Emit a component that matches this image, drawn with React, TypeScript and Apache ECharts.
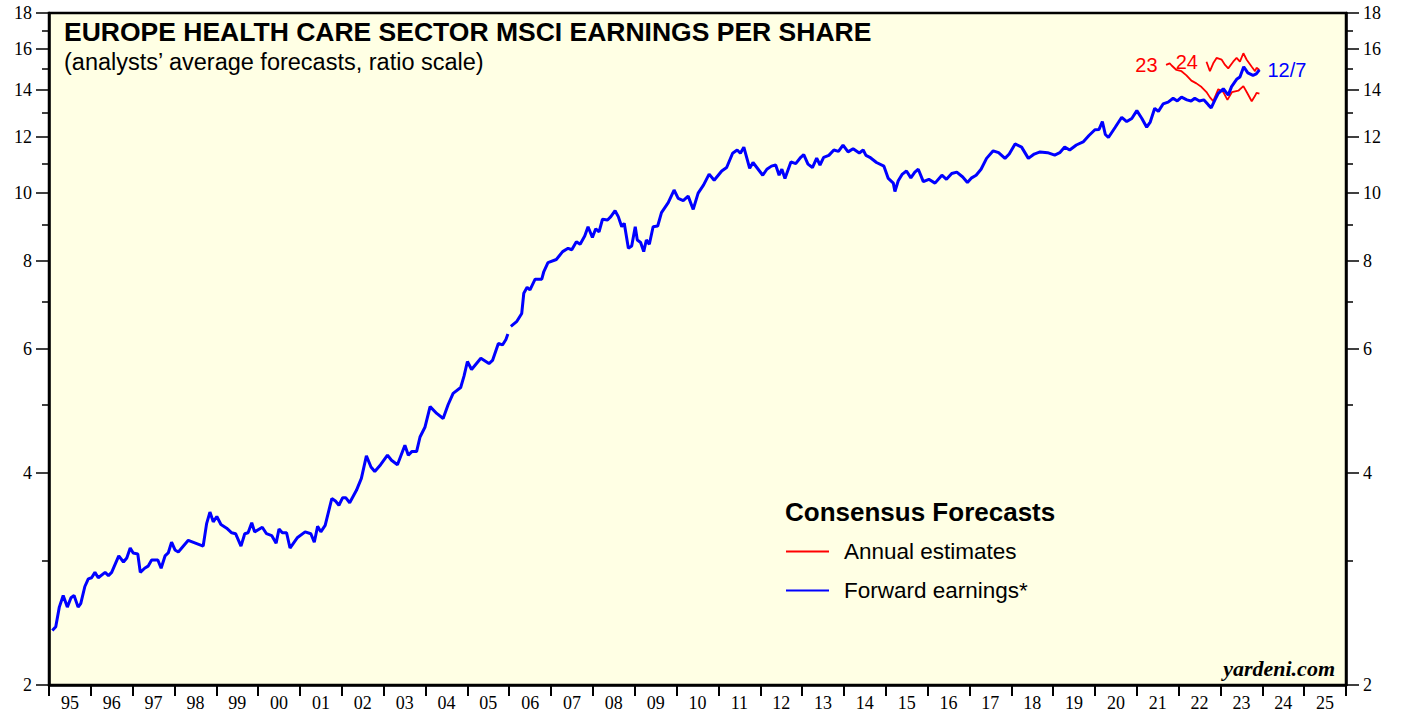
import React, { useEffect, useRef } from 'react';
import * as echarts from 'echarts';

const yearLabels = ['95','96','97','98','99','00','01','02','03','04','05','06','07','08','09','10','11','12','13','14','15','16','17','18','19','20','21','22','23','24','25'];
const majorTicks = [2, 4, 6, 8, 10, 12, 14, 16, 18];
const minorTicks = [3, 5, 7, 9, 11, 13, 15, 17];

const fwdEarnings: [string, number | null][] = [
  ['1995-01-30', 2.39], ['1995-03-01', 2.42], ['1995-04-01', 2.58], ['1995-05-05', 2.68], ['1995-06-10', 2.58],
  ['1995-07-12', 2.66], ['1995-08-08', 2.68], ['1995-09-12', 2.58], ['1995-10-05', 2.61], ['1995-11-10', 2.76],
  ['1995-12-10', 2.83], ['1996-01-08', 2.84], ['1996-02-06', 2.89], ['1996-03-06', 2.84], ['1996-05-05', 2.89],
  ['1996-06-03', 2.86], ['1996-07-01', 2.89], ['1996-09-01', 3.05], ['1996-10-12', 2.99], ['1996-11-10', 3.03],
  ['1996-12-10', 3.13], ['1997-01-05', 3.08], ['1997-02-14', 3.07], ['1997-03-08', 2.89], ['1997-04-15', 2.93],
  ['1997-05-15', 2.95], ['1997-06-15', 3.01], ['1997-08-08', 3.01], ['1997-09-06', 2.93], ['1997-10-10', 3.05],
  ['1997-11-07', 3.08], ['1997-12-06', 3.19], ['1998-01-05', 3.11], ['1998-02-03', 3.09], ['1998-05-01', 3.21],
  ['1998-09-08', 3.15], ['1998-10-08', 3.39], ['1998-11-06', 3.52], ['1998-12-05', 3.41], ['1999-01-05', 3.47],
  ['1999-02-10', 3.38], ['1999-04-01', 3.34], ['1999-05-15', 3.29], ['1999-06-18', 3.28], ['1999-08-04', 3.15],
  ['1999-09-06', 3.28], ['1999-10-05', 3.29], ['1999-11-06', 3.40], ['1999-12-01', 3.30], ['2000-02-06', 3.35],
  ['2000-03-14', 3.28], ['2000-04-28', 3.26], ['2000-06-06', 3.18], ['2000-07-01', 3.33], ['2000-07-30', 3.29],
  ['2000-09-05', 3.29], ['2000-10-05', 3.13], ['2000-12-10', 3.24], ['2001-02-14', 3.30], ['2001-04-05', 3.28],
  ['2001-05-05', 3.19], ['2001-06-03', 3.36], ['2001-07-01', 3.30], ['2001-08-08', 3.37], ['2001-10-05', 3.68],
  ['2001-11-06', 3.65], ['2001-12-06', 3.60], ['2002-01-08', 3.69], ['2002-02-03', 3.69], ['2002-03-10', 3.63],
  ['2002-05-08', 3.78], ['2002-06-20', 3.93], ['2002-08-03', 4.23], ['2002-09-12', 4.08], ['2002-10-15', 4.02],
  ['2002-12-05', 4.11], ['2003-02-03', 4.24], ['2003-03-10', 4.17], ['2003-05-01', 4.11], ['2003-07-05', 4.38],
  ['2003-08-04', 4.24], ['2003-09-03', 4.29], ['2003-10-15', 4.29], ['2003-11-14', 4.50], ['2003-12-28', 4.65],
  ['2004-02-10', 4.97], ['2004-04-08', 4.86], ['2004-06-03', 4.78], ['2004-07-16', 5.00], ['2004-08-29', 5.19],
  ['2004-11-03', 5.29], ['2004-12-02', 5.49], ['2005-01-01', 5.76], ['2005-02-06', 5.61], ['2005-04-28', 5.82],
  ['2005-07-08', 5.72], ['2005-08-08', 5.78], ['2005-09-28', 6.11], ['2005-11-03', 6.08], ['2005-12-03', 6.19],
  ['2005-12-20', 6.30], ['2006-01-01', null], ['2006-01-15', 6.46], ['2006-03-06', 6.56], ['2006-04-20', 6.74],
  ['2006-05-08', 7.20], ['2006-06-06', 7.34], ['2006-07-01', 7.28], ['2006-08-15', 7.54], ['2006-10-12', 7.54],
  ['2006-10-30', 7.73], ['2006-12-05', 7.96], ['2007-02-16', 8.04], ['2007-04-12', 8.25], ['2007-05-30', 8.34],
  ['2007-07-01', 8.30], ['2007-08-10', 8.52], ['2007-09-12', 8.45], ['2007-10-22', 8.68], ['2007-11-20', 8.95],
  ['2007-12-28', 8.64], ['2008-01-26', 8.89], ['2008-02-24', 8.80], ['2008-03-25', 9.17], ['2008-05-08', 9.15],
  ['2008-06-06', 9.25], ['2008-07-13', 9.43], ['2008-08-10', 9.25], ['2008-09-09', 8.95], ['2008-10-01', 9.05],
  ['2008-11-06', 8.34], ['2008-12-05', 8.40], ['2009-01-05', 8.95], ['2009-01-23', 8.57], ['2009-02-21', 8.50],
  ['2009-03-20', 8.25], ['2009-04-12', 8.57], ['2009-05-08', 8.45], ['2009-06-10', 8.95], ['2009-07-20', 8.97],
  ['2009-08-22', 9.37], ['2009-10-20', 9.68], ['2009-12-10', 10.09], ['2010-01-15', 9.82], ['2010-02-28', 9.75],
  ['2010-04-12', 9.89], ['2010-05-26', 9.47], ['2010-07-08', 9.99], ['2010-08-25', 10.26], ['2010-10-12', 10.63],
  ['2010-11-25', 10.42], ['2011-01-30', 10.74], ['2011-03-14', 10.86], ['2011-05-05', 11.38], ['2011-06-14', 11.50],
  ['2011-07-12', 11.38], ['2011-08-11', 11.61], ['2011-10-01', 10.83], ['2011-10-30', 11.04], ['2011-12-14', 10.80],
  ['2012-01-23', 10.59], ['2012-02-28', 10.80], ['2012-04-08', 10.91], ['2012-05-15', 10.95], ['2012-06-14', 10.59],
  ['2012-07-08', 10.80], ['2012-08-04', 10.48], ['2012-09-25', 11.06], ['2012-11-06', 11.00], ['2012-12-20', 11.23],
  ['2013-01-15', 11.33], ['2013-02-21', 10.98], ['2013-04-01', 10.86], ['2013-05-08', 11.20], ['2013-06-06', 10.95],
  ['2013-07-08', 11.23], ['2013-08-22', 11.30], ['2013-10-05', 11.50], ['2013-11-14', 11.45], ['2013-12-24', 11.69],
  ['2014-02-06', 11.43], ['2014-03-22', 11.55], ['2014-05-15', 11.39], ['2014-06-18', 11.50], ['2014-07-12', 11.30],
  ['2014-08-15', 11.23], ['2014-10-12', 11.04], ['2014-12-16', 10.91], ['2015-01-23', 10.48], ['2015-03-08', 10.32],
  ['2015-03-22', 10.04], ['2015-04-20', 10.40], ['2015-05-26', 10.63], ['2015-07-01', 10.74], ['2015-08-08', 10.50],
  ['2015-09-12', 10.70], ['2015-10-12', 10.80], ['2015-11-25', 10.37], ['2016-01-12', 10.45], ['2016-03-06', 10.32],
  ['2016-05-05', 10.59], ['2016-06-14', 10.45], ['2016-07-30', 10.65], ['2016-09-12', 10.70], ['2016-11-03', 10.53],
  ['2016-12-14', 10.34], ['2017-01-20', 10.50], ['2017-02-28', 10.59], ['2017-04-12', 10.80], ['2017-05-30', 11.19],
  ['2017-07-27', 11.47], ['2017-09-12', 11.40], ['2017-11-07', 11.19], ['2017-12-14', 11.35], ['2018-02-03', 11.73],
  ['2018-04-01', 11.61], ['2018-05-30', 11.19], ['2018-07-20', 11.35], ['2018-09-09', 11.43], ['2018-11-14', 11.40],
  ['2019-01-15', 11.31], ['2019-02-28', 11.40], ['2019-04-12', 11.61], ['2019-05-26', 11.50], ['2019-07-23', 11.69],
  ['2019-09-20', 11.81], ['2019-11-10', 12.06], ['2020-01-01', 12.29], ['2020-02-06', 12.30], ['2020-03-06', 12.62],
  ['2020-04-01', 12.10], ['2020-04-28', 11.98], ['2020-06-25', 12.38], ['2020-08-22', 12.80], ['2020-10-05', 12.62],
  ['2020-11-18', 12.75], ['2021-01-01', 13.08], ['2021-02-14', 12.75], ['2021-03-28', 12.39], ['2021-04-28', 12.60],
  ['2021-06-06', 13.18], ['2021-07-08', 13.05], ['2021-08-18', 13.37], ['2021-10-01', 13.45], ['2021-11-14', 13.62],
  ['2021-12-20', 13.50], ['2022-01-26', 13.67], ['2022-03-14', 13.55], ['2022-04-20', 13.50], ['2022-05-22', 13.62],
  ['2022-07-01', 13.50], ['2022-08-08', 13.55], ['2022-09-17', 13.33], ['2022-10-12', 13.20], ['2022-11-14', 13.55],
  ['2022-12-13', 13.84], ['2023-01-26', 14.05], ['2023-03-10', 13.76], ['2023-04-08', 14.15], ['2023-05-22', 14.49],
  ['2023-06-20', 14.60], ['2023-07-23', 15.10], ['2023-08-28', 14.80], ['2023-10-12', 14.68], ['2023-11-10', 14.75],
  ['2023-12-07', 14.95],
];

const est2023: [string, number][] = [
  ['2021-09-13', 15.19], ['2021-10-15', 15.27], ['2021-11-01', 15.16], ['2021-12-13', 14.94], ['2022-01-26', 14.88],
  ['2022-03-10', 14.68], ['2022-04-22', 14.43], ['2022-06-05', 14.30], ['2022-07-20', 14.13], ['2022-09-01', 13.90],
  ['2022-10-01', 13.66], ['2022-10-30', 13.49], ['2022-12-13', 14.03], ['2023-01-26', 13.90], ['2023-03-03', 13.55],
  ['2023-04-12', 13.90], ['2023-06-06', 13.96], ['2023-07-20', 14.17], ['2023-08-18', 13.90], ['2023-10-01', 13.49],
  ['2023-10-30', 13.73], ['2023-11-12', 13.86], ['2023-12-07', 13.83],
];

const est2024: [string, number][] = [
  ['2022-09-01', 15.35], ['2022-10-01', 14.88], ['2022-10-30', 15.27], ['2022-11-28', 15.54], ['2023-01-12', 15.45],
  ['2023-02-10', 15.19], ['2023-03-10', 15.02], ['2023-04-22', 15.35], ['2023-05-22', 15.54], ['2023-06-20', 15.35],
  ['2023-07-20', 15.78], ['2023-08-18', 15.45], ['2023-10-01', 15.10], ['2023-10-30', 14.88], ['2023-11-12', 15.05],
  ['2023-12-07', 14.94],
];

const SANS = 'Liberation Sans, Arial, sans-serif';
const SERIF = 'Liberation Serif, Times New Roman, serif';

export default function App() {
  const ref = useRef<HTMLDivElement>(null);

  useEffect(() => {
    if (!ref.current) return;
    const chart = echarts.init(ref.current, null, { renderer: 'svg' });
    const ln = Math.log;
    const toLn = (d: [string, number | null][]) => d.map(([t, v]) => [t, v == null ? null : ln(v)]);
    const yMin = ln(2);
    const yMax = ln(18);
    const majorLn = majorTicks.map(ln);
    const minorLn = minorTicks.map(ln);
    const labelFmt = (v: number) => String(Math.round(Math.exp(v)));

    const yMajor = (position: 'left' | 'right') => ({
      type: 'value',
      position,
      min: yMin,
      max: yMax,
      splitLine: { show: false },
      axisLine: { show: true, lineStyle: { color: '#000', width: 2.5 } },
      axisTick: { show: true, inside: false, length: 13, customValues: majorLn, lineStyle: { color: '#000', width: 1.5 } },
      axisLabel: {
        show: true,
        customValues: majorLn,
        formatter: labelFmt,
        margin: 17,
        color: '#000',
        fontFamily: SERIF,
        fontSize: 18,
      },
    });
    const yMinor = (position: 'left' | 'right') => ({
      type: 'value',
      position,
      min: yMin,
      max: yMax,
      splitLine: { show: false },
      axisLine: { show: false },
      axisTick: { show: true, inside: false, length: 7, customValues: minorLn, lineStyle: { color: '#000', width: 1.5 } },
      axisLabel: { show: false },
    });

    const redLabel = (text: string) => ({
      show: true,
      position: 'left',
      distance: 8,
      formatter: text,
      color: '#FF0000',
      fontSize: 20,
      fontFamily: SANS,
    });

    const e23 = toLn(est2023);
    const e24 = toLn(est2024);

    chart.setOption({
      animation: false,
      backgroundColor: '#FFFFFF',
      title: [
        {
          text: 'EUROPE HEALTH CARE SECTOR MSCI EARNINGS PER SHARE',
          subtext: '(analysts’ average forecasts, ratio scale)',
          left: 64,
          top: 18,
          padding: 0,
          itemGap: 5,
          textStyle: { fontFamily: SANS, fontWeight: 'bold', fontSize: 26.5, color: '#000' },
          subtextStyle: { fontFamily: SANS, fontSize: 23.5, color: '#000' },
        },
        {
          text: 'Consensus Forecasts',
          left: 785,
          top: 499,
          padding: 0,
          textStyle: { fontFamily: SANS, fontWeight: 'bold', fontSize: 26, color: '#000' },
        },
        {
          text: 'yardeni.com',
          right: 70,
          top: 657,
          padding: 0,
          textStyle: { fontFamily: SERIF, fontWeight: 'bold', fontStyle: 'italic', fontSize: 22, color: '#000' },
        },
      ],
      legend: {
        orient: 'vertical',
        left: 785,
        top: 540,
        padding: 0,
        itemWidth: 43,
        itemHeight: 14,
        itemGap: 16,
        itemStyle: { opacity: 0 },
        data: ['Annual estimates', 'Forward earnings*'],
        textStyle: { fontFamily: SANS, fontSize: 22.5, color: '#000', padding: [0, 0, 0, 10] },
      },
      grid: {
        left: 49,
        right: 59,
        top: 13,
        bottom: 32,
        show: true,
        backgroundColor: '#FFFFE4',
        borderColor: '#000',
        borderWidth: 2.5,
      },
      xAxis: [
        {
          type: 'time',
          min: '1995-01-01',
          max: '2026-01-01',
          show: false,
          splitLine: { show: false },
        },
        {
          type: 'category',
          position: 'bottom',
          data: yearLabels,
          boundaryGap: true,
          axisLine: { show: true, lineStyle: { color: '#000', width: 2.5 } },
          axisTick: { show: true, inside: false, alignWithLabel: false, interval: 0, length: 11, lineStyle: { color: '#000', width: 2 } },
          axisLabel: { interval: 0, margin: 9, color: '#000', fontFamily: SERIF, fontSize: 18 },
          splitLine: { show: false },
        },
      ],
      yAxis: [yMajor('left'), yMinor('left'), yMajor('right'), yMinor('right')],
      series: [
        {
          name: 'Annual estimates',
          type: 'line',
          xAxisIndex: 0,
          yAxisIndex: 0,
          data: e23,
          symbol: 'none',
          showSymbol: false,
          lineStyle: { color: '#FF0000', width: 1.8 },
          itemStyle: { color: '#FF0000' },
          markPoint: {
            symbol: 'circle',
            symbolSize: 1,
            itemStyle: { color: 'rgba(0,0,0,0)' },
            label: redLabel('23'),
            data: [{ coord: e23[0] }],
          },
          z: 3,
        },
        {
          name: 'Annual estimates',
          type: 'line',
          xAxisIndex: 0,
          yAxisIndex: 0,
          data: e24,
          symbol: 'none',
          showSymbol: false,
          lineStyle: { color: '#FF0000', width: 1.8 },
          itemStyle: { color: '#FF0000' },
          markPoint: {
            symbol: 'circle',
            symbolSize: 1,
            itemStyle: { color: 'rgba(0,0,0,0)' },
            label: redLabel('24'),
            data: [{ coord: e24[0] }],
          },
          z: 3,
        },
        {
          name: 'Forward earnings*',
          type: 'line',
          xAxisIndex: 0,
          yAxisIndex: 0,
          data: toLn(fwdEarnings),
          connectNulls: false,
          symbol: 'none',
          showSymbol: false,
          lineStyle: { color: '#0000FF', width: 3 },
          itemStyle: { color: '#0000FF' },
          endLabel: {
            show: true,
            formatter: '12/7',
            color: '#0000FF',
            fontSize: 20,
            fontFamily: SANS,
            distance: 8,
          },
          z: 4,
        },
      ],
    });

    return () => chart.dispose();
  }, []);

  return <div ref={ref} style={{ position: 'absolute', left: 0, top: 0, width: 1405, height: 717 }} />;
}
